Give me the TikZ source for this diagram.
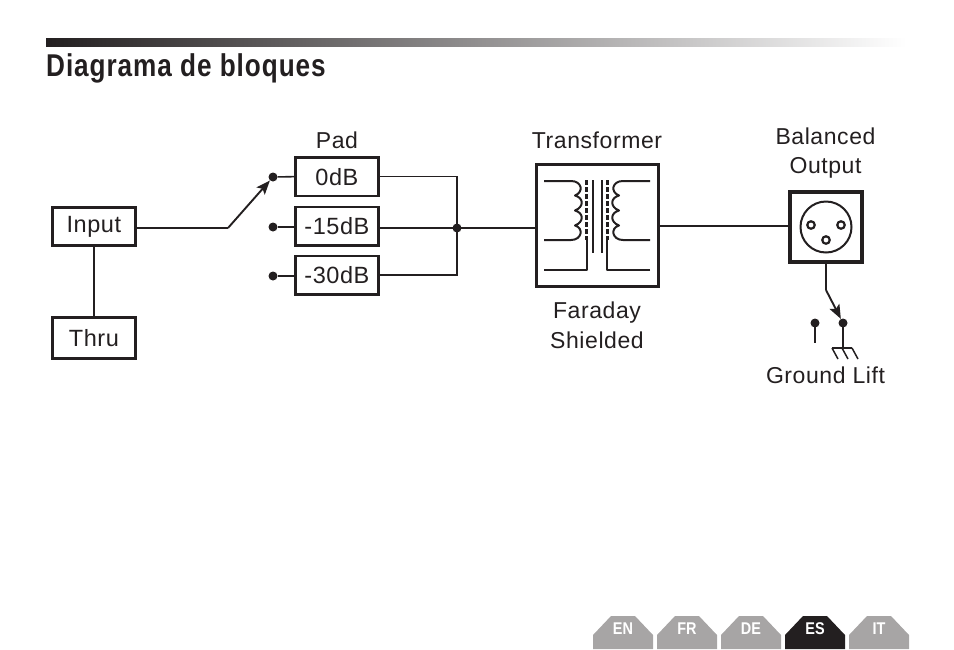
\documentclass[tikz,border=0pt]{standalone}
\usepackage{fontspec}
\setmainfont[LetterSpace=2.5]{Liberation Sans}
\newfontfamily\titlefont[FakeStretch=0.83,LetterSpace=3]{Liberation Sans Bold}
\newfontfamily\tabfont[FakeStretch=0.85]{Liberation Sans Bold}
\usetikzlibrary{arrows.meta,calc}
\definecolor{ink}{HTML}{231F20}
\definecolor{tabgray}{HTML}{A7A5A5}
\tikzset{
  wire/.style={draw=ink,line width=1.6pt},
  thin wire/.style={draw=ink,line width=1.5pt},
  blockbox/.style={draw=ink,line width=2.8pt,fill=white,inner sep=0pt,font=\fontsize{23.5}{24}\selectfont,text=ink,anchor=north west},
  lbl/.style={font=\fontsize{23}{30}\selectfont,text=ink,align=center,inner sep=0pt},
  bigbox/.style={draw=ink,line width=3.4pt,fill=white,inner sep=0pt,anchor=north west},
  dot/.style={circle,fill=ink,inner sep=0pt,minimum size=9pt},
  arr/.style={draw=ink,line width=1.9pt,-{Stealth[length=14pt,width=11pt,inset=3pt]}},
  pin/.style={circle,draw=ink,line width=2.2pt,minimum size=7.5pt,inner sep=0pt},
  tablabel/.style={font=\tabfont\fontsize{17}{17}\selectfont,text=white,inner sep=0pt},
  coilline/.style={draw=ink,line width=2pt,line join=round},
}
\newcommand{\langtab}[4]{%
  \fill[#4] (#1,649) -- (#1,635) -- (#1+18,616) -- (#1+42,616) -- (#1+60,635) -- (#1+60,649) -- cycle;
  \node[tablabel] (tab#3) at (#1+30,629) {#2};}
\begin{document}
\begin{tikzpicture}[x=1pt,y=-1pt]
\useasboundingbox (0,0) rectangle (954,649);
% header
\shade[left color=ink,right color=white,draw=none] (46,38) rectangle (906,46);
\node[anchor=base west,inner sep=0pt,text=ink,font=\titlefont\fontsize{31.5}{32}\selectfont] (title) at (46,76.5) {Diagrama de bloques};
% input / thru
\node[blockbox,minimum width=83pt,minimum height=38pt] (input) at (51,206) {Input};
\node[blockbox,minimum width=83pt,minimum height=41pt] (thru) at (51,316) {Thru};
\draw[wire] (input.south -| 94,0) -- (thru.north -| 94,0);
% pads
\node[lbl] (padlbl) at (337,140) {Pad};
\node[blockbox,minimum width=83pt,minimum height=38.5pt] (pad0) at (294,156) {\raisebox{-1pt}{0dB}};
\node[blockbox,minimum width=83pt,minimum height=38.5pt] (pad15) at (294,205.5) {\raisebox{-1pt}{-15dB}};
\node[blockbox,minimum width=83pt,minimum height=38.5pt] (pad30) at (294,254.5) {\raisebox{-1pt}{-30dB}};
\node[dot] (d0) at (273,177) {};
\node[dot] (d15) at (273,227) {};
\node[dot] (d30) at (273,276) {};
\draw[wire] (d0) -- (pad0.west);
\draw[wire] (d15) -- (d15 -| pad15.west);
\draw[wire] (d30) -- (d30 -| pad30.west);
\coordinate (sw) at (228,228);
\draw[wire] (input.east |- sw) -- (sw);
\draw[arr] (sw) -- (d0);
% bus
\node[dot] (bus) at (457,228) {};
\draw[wire] (pad0.east) -| (bus.center);
\draw[wire] (pad30.east) -| (bus.center);
\draw[wire] (pad15.east |- bus) -- (bus.center);
% transformer
\node[lbl] (trlbl) at (597,140) {Transformer};
\node[bigbox,minimum width=121.5pt,minimum height=122pt] (tr) at (535,163) {};
\node[lbl] (farlbl) at (597,325) {Faraday\\Shielded};
\draw[wire] (bus.center) -- (bus.center -| tr.west);
\draw[coilline] (544,181) -- (571,181)
   .. controls (582,181) and (584,192) .. (575,195.5)
   .. controls (584,198) and (584,207) .. (575,210.5)
   .. controls (584,213) and (584,222) .. (575,225.5)
   .. controls (584,228) and (582,240) .. (571,240) -- (544,240);
\draw[coilline] (650,181) -- (623,181)
   .. controls (612,181) and (610,192) .. (619,195.5)
   .. controls (610,198) and (610,207) .. (619,210.5)
   .. controls (610,213) and (610,222) .. (619,225.5)
   .. controls (610,228) and (612,240) .. (623,240) -- (650,240);
\draw[coilline] (544,270) -- (587,270) -- (587,240);
\draw[coilline] (650,270) -- (607,270) -- (607,240);
\draw[draw=ink,line width=3pt,dash pattern=on 4.5pt off 2.5pt] (586.5,180) -- (586.5,240);
\draw[draw=ink,line width=3pt,dash pattern=on 4.5pt off 2.5pt] (607,180) -- (607,240);
\draw[coilline] (592.5,180) -- (592.5,253);
\draw[coilline] (601.5,180) -- (601.5,253);
% output
\node[lbl] (ballbl) at (825.5,153) {\raisebox{-1.5pt}{Balanced}\\Output};
\node[bigbox,line width=3.8pt,minimum width=72pt,minimum height=70pt] (xlr) at (788,190) {};
\draw[wire] (tr.east |- 0,226) -- (xlr.west |- 0,226);
\node[circle,draw=ink,line width=2pt,minimum size=51pt,inner sep=0pt] (xlrc) at (826,227) {};
\node[pin] (p1) at (811,225) {};
\node[pin] (p2) at (841,225) {};
\node[pin] (p3) at (826,240) {};
\node[dot] (gl) at (815,323) {};
\node[dot] (gr) at (843,323) {};
\coordinate (glend) at (815,343);
\coordinate (gbend) at (826,290);
\draw[wire] (xlr.south -| gbend) -- (gbend);
\draw[arr] (gbend) -- (gr);
\draw[wire,line width=2pt] (gl.center) -- (glend);
\coordinate (gbar) at (843,348);
\draw[wire] (gr.center) -- (gbar);
\draw[thin wire] (832,348) -- (852,348);
\draw[thin wire] (832,348) -- (838,359);
\draw[thin wire] (842,348) -- (848,359);
\draw[thin wire] (852,348) -- (858,359);
\node[lbl] (gndlbl) at (825.5,375) {Ground Lift};
% language tabs
\langtab{593}{EN}{en}{tabgray}
\langtab{657}{FR}{fr}{tabgray}
\langtab{721}{DE}{de}{tabgray}
\langtab{785}{ES}{es}{ink}
\langtab{849}{IT}{it}{tabgray}
\end{tikzpicture}
\end{document}
